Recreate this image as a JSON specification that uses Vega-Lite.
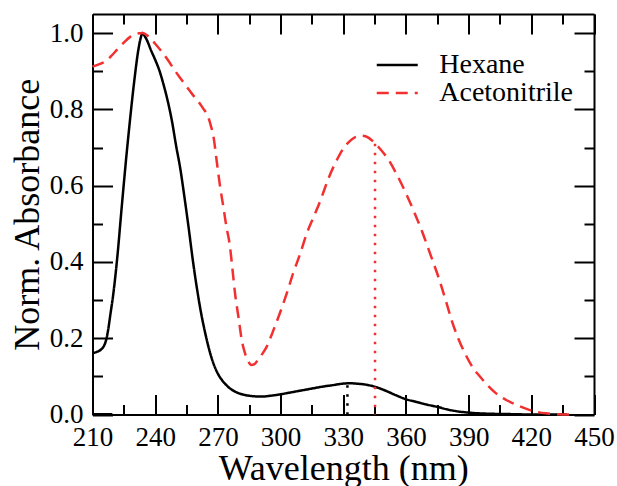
{
  "$schema": "https://vega.github.io/schema/vega-lite/v6.json",
  "width": 501.5,
  "height": 400.5,
  "autosize": "none",
  "padding": {"left": 92.5, "top": 14, "right": 23, "bottom": 71.5},
  "background": "white",
  "config": {
    "view": {"stroke": null},
    "font": "Liberation Serif, Times New Roman, serif",
    "axis": {
      "domainColor": "black",
      "domainWidth": 2,
      "tickColor": "black",
      "tickWidth": 2,
      "labelColor": "black",
      "labelFont": "Liberation Serif, Times New Roman, serif",
      "labelFontSize": 27,
      "labelFlush": false,
      "labelOverlap": false,
      "titleColor": "black",
      "titleFont": "Liberation Serif, Times New Roman, serif",
      "titleFontSize": 36,
      "titleFontWeight": "normal",
      "grid": false
    }
  },
  "datasets": {
    "spectra": [
      {"solvent": "Hexane", "wl": 210, "abs": 0.161},
      {"solvent": "Hexane", "wl": 212, "abs": 0.164},
      {"solvent": "Hexane", "wl": 214, "abs": 0.170},
      {"solvent": "Hexane", "wl": 215.5, "abs": 0.180},
      {"solvent": "Hexane", "wl": 216.5, "abs": 0.195},
      {"solvent": "Hexane", "wl": 217.5, "abs": 0.222},
      {"solvent": "Hexane", "wl": 218.5, "abs": 0.26},
      {"solvent": "Hexane", "wl": 220, "abs": 0.318},
      {"solvent": "Hexane", "wl": 222, "abs": 0.42},
      {"solvent": "Hexane", "wl": 224, "abs": 0.545},
      {"solvent": "Hexane", "wl": 226, "abs": 0.665},
      {"solvent": "Hexane", "wl": 228, "abs": 0.775},
      {"solvent": "Hexane", "wl": 230, "abs": 0.875},
      {"solvent": "Hexane", "wl": 232, "abs": 0.958},
      {"solvent": "Hexane", "wl": 233.2, "abs": 0.99},
      {"solvent": "Hexane", "wl": 234, "abs": 1.0},
      {"solvent": "Hexane", "wl": 235, "abs": 0.992},
      {"solvent": "Hexane", "wl": 236, "abs": 0.982},
      {"solvent": "Hexane", "wl": 238, "abs": 0.955},
      {"solvent": "Hexane", "wl": 240, "abs": 0.93},
      {"solvent": "Hexane", "wl": 242, "abs": 0.902},
      {"solvent": "Hexane", "wl": 244, "abs": 0.865},
      {"solvent": "Hexane", "wl": 246, "abs": 0.822},
      {"solvent": "Hexane", "wl": 248, "abs": 0.77},
      {"solvent": "Hexane", "wl": 250, "abs": 0.705},
      {"solvent": "Hexane", "wl": 252, "abs": 0.645},
      {"solvent": "Hexane", "wl": 254, "abs": 0.57},
      {"solvent": "Hexane", "wl": 256, "abs": 0.49},
      {"solvent": "Hexane", "wl": 258, "abs": 0.405},
      {"solvent": "Hexane", "wl": 260, "abs": 0.33},
      {"solvent": "Hexane", "wl": 262, "abs": 0.265},
      {"solvent": "Hexane", "wl": 264, "abs": 0.212},
      {"solvent": "Hexane", "wl": 266, "abs": 0.167},
      {"solvent": "Hexane", "wl": 268, "abs": 0.132},
      {"solvent": "Hexane", "wl": 270, "abs": 0.107},
      {"solvent": "Hexane", "wl": 272, "abs": 0.09},
      {"solvent": "Hexane", "wl": 275, "abs": 0.072},
      {"solvent": "Hexane", "wl": 279, "abs": 0.058},
      {"solvent": "Hexane", "wl": 283, "abs": 0.051},
      {"solvent": "Hexane", "wl": 287, "abs": 0.048},
      {"solvent": "Hexane", "wl": 291, "abs": 0.047},
      {"solvent": "Hexane", "wl": 295, "abs": 0.049},
      {"solvent": "Hexane", "wl": 300, "abs": 0.053},
      {"solvent": "Hexane", "wl": 305, "abs": 0.058},
      {"solvent": "Hexane", "wl": 310, "abs": 0.063},
      {"solvent": "Hexane", "wl": 315, "abs": 0.068},
      {"solvent": "Hexane", "wl": 320, "abs": 0.073},
      {"solvent": "Hexane", "wl": 325, "abs": 0.077},
      {"solvent": "Hexane", "wl": 330, "abs": 0.081},
      {"solvent": "Hexane", "wl": 333, "abs": 0.082},
      {"solvent": "Hexane", "wl": 336, "abs": 0.081},
      {"solvent": "Hexane", "wl": 340, "abs": 0.079},
      {"solvent": "Hexane", "wl": 345, "abs": 0.073},
      {"solvent": "Hexane", "wl": 350, "abs": 0.063},
      {"solvent": "Hexane", "wl": 355, "abs": 0.051},
      {"solvent": "Hexane", "wl": 360, "abs": 0.04},
      {"solvent": "Hexane", "wl": 365, "abs": 0.033},
      {"solvent": "Hexane", "wl": 370, "abs": 0.026},
      {"solvent": "Hexane", "wl": 375, "abs": 0.02},
      {"solvent": "Hexane", "wl": 380, "abs": 0.013},
      {"solvent": "Hexane", "wl": 385, "abs": 0.008},
      {"solvent": "Hexane", "wl": 390, "abs": 0.005},
      {"solvent": "Hexane", "wl": 395, "abs": 0.003},
      {"solvent": "Hexane", "wl": 400, "abs": 0.002},
      {"solvent": "Hexane", "wl": 410, "abs": 0.001},
      {"solvent": "Hexane", "wl": 420, "abs": 0.0},
      {"solvent": "Hexane", "wl": 437, "abs": 0.0},
      {"solvent": "Acetonitrile", "wl": 210, "abs": 0.912},
      {"solvent": "Acetonitrile", "wl": 213, "abs": 0.918},
      {"solvent": "Acetonitrile", "wl": 216, "abs": 0.925},
      {"solvent": "Acetonitrile", "wl": 219, "abs": 0.94},
      {"solvent": "Acetonitrile", "wl": 222, "abs": 0.958},
      {"solvent": "Acetonitrile", "wl": 225, "abs": 0.975},
      {"solvent": "Acetonitrile", "wl": 228, "abs": 0.99},
      {"solvent": "Acetonitrile", "wl": 231, "abs": 0.998},
      {"solvent": "Acetonitrile", "wl": 234, "abs": 1.0},
      {"solvent": "Acetonitrile", "wl": 237, "abs": 0.99},
      {"solvent": "Acetonitrile", "wl": 240, "abs": 0.972},
      {"solvent": "Acetonitrile", "wl": 243, "abs": 0.952},
      {"solvent": "Acetonitrile", "wl": 246, "abs": 0.93},
      {"solvent": "Acetonitrile", "wl": 249, "abs": 0.905},
      {"solvent": "Acetonitrile", "wl": 252, "abs": 0.882},
      {"solvent": "Acetonitrile", "wl": 255, "abs": 0.86},
      {"solvent": "Acetonitrile", "wl": 258, "abs": 0.838},
      {"solvent": "Acetonitrile", "wl": 261, "abs": 0.818},
      {"solvent": "Acetonitrile", "wl": 263, "abs": 0.802},
      {"solvent": "Acetonitrile", "wl": 265, "abs": 0.785},
      {"solvent": "Acetonitrile", "wl": 266.5, "abs": 0.76},
      {"solvent": "Acetonitrile", "wl": 268, "abs": 0.725},
      {"solvent": "Acetonitrile", "wl": 269.5, "abs": 0.662},
      {"solvent": "Acetonitrile", "wl": 271, "abs": 0.6},
      {"solvent": "Acetonitrile", "wl": 272.6, "abs": 0.545},
      {"solvent": "Acetonitrile", "wl": 274, "abs": 0.495},
      {"solvent": "Acetonitrile", "wl": 275.8, "abs": 0.44},
      {"solvent": "Acetonitrile", "wl": 277, "abs": 0.38},
      {"solvent": "Acetonitrile", "wl": 278.2, "abs": 0.318},
      {"solvent": "Acetonitrile", "wl": 280, "abs": 0.25},
      {"solvent": "Acetonitrile", "wl": 281.4, "abs": 0.196},
      {"solvent": "Acetonitrile", "wl": 283, "abs": 0.16},
      {"solvent": "Acetonitrile", "wl": 284.5, "abs": 0.14},
      {"solvent": "Acetonitrile", "wl": 286, "abs": 0.13},
      {"solvent": "Acetonitrile", "wl": 287.5, "abs": 0.132},
      {"solvent": "Acetonitrile", "wl": 289, "abs": 0.142},
      {"solvent": "Acetonitrile", "wl": 291, "abs": 0.157},
      {"solvent": "Acetonitrile", "wl": 293.4, "abs": 0.178},
      {"solvent": "Acetonitrile", "wl": 296.5, "abs": 0.22},
      {"solvent": "Acetonitrile", "wl": 299.7, "abs": 0.266},
      {"solvent": "Acetonitrile", "wl": 303, "abs": 0.318},
      {"solvent": "Acetonitrile", "wl": 306, "abs": 0.37},
      {"solvent": "Acetonitrile", "wl": 309.3, "abs": 0.42},
      {"solvent": "Acetonitrile", "wl": 312.5, "abs": 0.474},
      {"solvent": "Acetonitrile", "wl": 316, "abs": 0.52},
      {"solvent": "Acetonitrile", "wl": 319, "abs": 0.56},
      {"solvent": "Acetonitrile", "wl": 323, "abs": 0.62},
      {"solvent": "Acetonitrile", "wl": 327, "abs": 0.668},
      {"solvent": "Acetonitrile", "wl": 330, "abs": 0.697},
      {"solvent": "Acetonitrile", "wl": 333, "abs": 0.716},
      {"solvent": "Acetonitrile", "wl": 336, "abs": 0.728},
      {"solvent": "Acetonitrile", "wl": 339, "abs": 0.731},
      {"solvent": "Acetonitrile", "wl": 342, "abs": 0.726},
      {"solvent": "Acetonitrile", "wl": 345, "abs": 0.712},
      {"solvent": "Acetonitrile", "wl": 348, "abs": 0.694},
      {"solvent": "Acetonitrile", "wl": 352, "abs": 0.665},
      {"solvent": "Acetonitrile", "wl": 356, "abs": 0.625},
      {"solvent": "Acetonitrile", "wl": 360, "abs": 0.58},
      {"solvent": "Acetonitrile", "wl": 364, "abs": 0.53},
      {"solvent": "Acetonitrile", "wl": 368, "abs": 0.476},
      {"solvent": "Acetonitrile", "wl": 372, "abs": 0.415},
      {"solvent": "Acetonitrile", "wl": 376, "abs": 0.353},
      {"solvent": "Acetonitrile", "wl": 379, "abs": 0.3},
      {"solvent": "Acetonitrile", "wl": 382, "abs": 0.245},
      {"solvent": "Acetonitrile", "wl": 385, "abs": 0.2},
      {"solvent": "Acetonitrile", "wl": 389, "abs": 0.152},
      {"solvent": "Acetonitrile", "wl": 392, "abs": 0.123},
      {"solvent": "Acetonitrile", "wl": 395.5, "abs": 0.099},
      {"solvent": "Acetonitrile", "wl": 399, "abs": 0.077},
      {"solvent": "Acetonitrile", "wl": 403, "abs": 0.056},
      {"solvent": "Acetonitrile", "wl": 408, "abs": 0.038},
      {"solvent": "Acetonitrile", "wl": 413, "abs": 0.025},
      {"solvent": "Acetonitrile", "wl": 418, "abs": 0.014},
      {"solvent": "Acetonitrile", "wl": 422.6, "abs": 0.007},
      {"solvent": "Acetonitrile", "wl": 427, "abs": 0.003},
      {"solvent": "Acetonitrile", "wl": 431, "abs": 0.001},
      {"solvent": "Acetonitrile", "wl": 440, "abs": 0.0}
    ],
    "peaks": [
      {"solvent": "Hexane", "wl": 332, "top": 0.077},
      {"solvent": "Acetonitrile", "wl": 345.2, "top": 0.71}
    ],
    "baseline": [
      {"start": 210, "end": 219.5, "level": 0}
    ]
  },
  "layer": [
    {
      "data": {"name": "spectra"},
      "mark": {"type": "line", "strokeWidth": 2.5, "interpolate": "monotone"},
      "encoding": {
        "x": {
          "field": "wl", "type": "quantitative",
          "scale": {"domain": [210, 450], "nice": false, "zero": false},
          "axis": {
            "orient": "bottom",
            "values": [210, 240, 270, 300, 330, 360, 390, 420, 450],
            "ticks": false,
            "domain": true,
            "labelFont": "Liberation Serif, Times New Roman, serif",
            "labelFontSize": 27,
            "labelColor": "black",
            "labelPadding": 9.5,
            "title": "Wavelength (nm)",
            "titleFont": "Liberation Serif, Times New Roman, serif",
            "titleFontSize": 36,
            "titleBaseline": "alphabetic",
            "titleX": 250.75,
            "titleY": 65,
            "titleAnchor": "middle"
          }
        },
        "y": {
          "field": "abs", "type": "quantitative",
          "scale": {"domain": [0, 1.05], "nice": false, "zero": true},
          "axis": {
            "orient": "left",
            "values": [0, 0.2, 0.4, 0.6, 0.8, 1.0],
            "format": ".1f",
            "ticks": false,
            "domain": true,
            "labelFont": "Liberation Serif, Times New Roman, serif",
            "labelFontSize": 27,
            "labelColor": "black",
            "labelPadding": 9.5,
            "title": "Norm. Absorbance",
            "titleFont": "Liberation Serif, Times New Roman, serif",
            "titleFontSize": 36,
            "titleBaseline": "alphabetic",
            "titleAngle": -90,
            "titleX": -54,
            "titleY": 200.25,
            "titleAnchor": "middle"
          }
        },
        "color": {
          "field": "solvent", "type": "nominal",
          "scale": {"domain": ["Hexane", "Acetonitrile"], "range": ["#000000", "#f23030"]},
          "legend": {
            "title": null,
            "orient": "none",
            "legendX": 290.75,
            "legendY": 37,
            "padding": 0,
            "symbolType": "M-2,0H2",
            "symbolSize": 420,
            "symbolStrokeWidth": 2.5,
            "labelFont": "Liberation Serif, Times New Roman, serif",
            "labelFontSize": 28,
            "labelColor": "black",
            "labelOffset": 28,
            "rowPadding": 0
          }
        },
        "strokeDash": {
          "field": "solvent", "type": "nominal",
          "scale": {"domain": ["Hexane", "Acetonitrile"], "range": [[1, 0], [12, 7]]},
          "legend": {
            "title": null,
            "orient": "none",
            "legendX": 290.75,
            "legendY": 37,
            "padding": 0,
            "symbolType": "M-2,0H2",
            "symbolSize": 420,
            "symbolStrokeWidth": 2.5,
            "labelFont": "Liberation Serif, Times New Roman, serif",
            "labelFontSize": 28,
            "labelColor": "black",
            "labelOffset": 28,
            "rowPadding": 0
          }
        }
      }
    },
    {
      "data": {"name": "peaks"},
      "mark": {"type": "rule", "strokeWidth": 2.5, "strokeDash": [2.5, 6.5]},
      "encoding": {
        "x": {
          "field": "wl", "type": "quantitative",
          "axis": {
            "orient": "top",
            "values": [210, 225, 240, 255, 270, 285, 300, 315, 330, 345, 360, 375, 390, 405, 420, 435, 450],
            "labels": false,
            "title": null,
            "tickSize": {"condition": {"test": "datum.value % 30 === 0", "value": -20}, "value": -10}
          }
        },
        "y": {
          "field": "top", "type": "quantitative",
          "axis": {
            "orient": "right",
            "values": [0, 0.1, 0.2, 0.3, 0.4, 0.5, 0.6, 0.7, 0.8, 0.9, 1.0],
            "labels": false,
            "title": null,
            "tickSize": {"condition": {"test": "round(datum.value * 10) % 2 === 0", "value": -20}, "value": -10}
          }
        },
        "y2": {"datum": 0},
        "color": {"field": "solvent", "type": "nominal", "legend": null}
      }
    },
    {
      "data": {"name": "baseline"},
      "mark": {"type": "rule", "strokeWidth": 3, "color": "black"},
      "encoding": {
        "x": {
          "field": "start", "type": "quantitative",
          "axis": {
            "orient": "bottom",
            "values": [210, 225, 240, 255, 270, 285, 300, 315, 330, 345, 360, 375, 390, 405, 420, 435, 450],
            "labels": false,
            "domain": false,
            "title": null,
            "tickSize": {"condition": {"test": "datum.value % 30 === 0", "value": -20}, "value": -10}
          }
        },
        "x2": {"field": "end"},
        "y": {
          "field": "level", "type": "quantitative",
          "axis": {
            "orient": "left",
            "values": [0, 0.1, 0.2, 0.3, 0.4, 0.5, 0.6, 0.7, 0.8, 0.9, 1.0],
            "labels": false,
            "domain": false,
            "title": null,
            "tickSize": {"condition": {"test": "round(datum.value * 10) % 2 === 0", "value": -20}, "value": -10}
          }
        }
      }
    }
  ],
  "resolve": {"axis": {"x": "independent", "y": "independent"}}
}
